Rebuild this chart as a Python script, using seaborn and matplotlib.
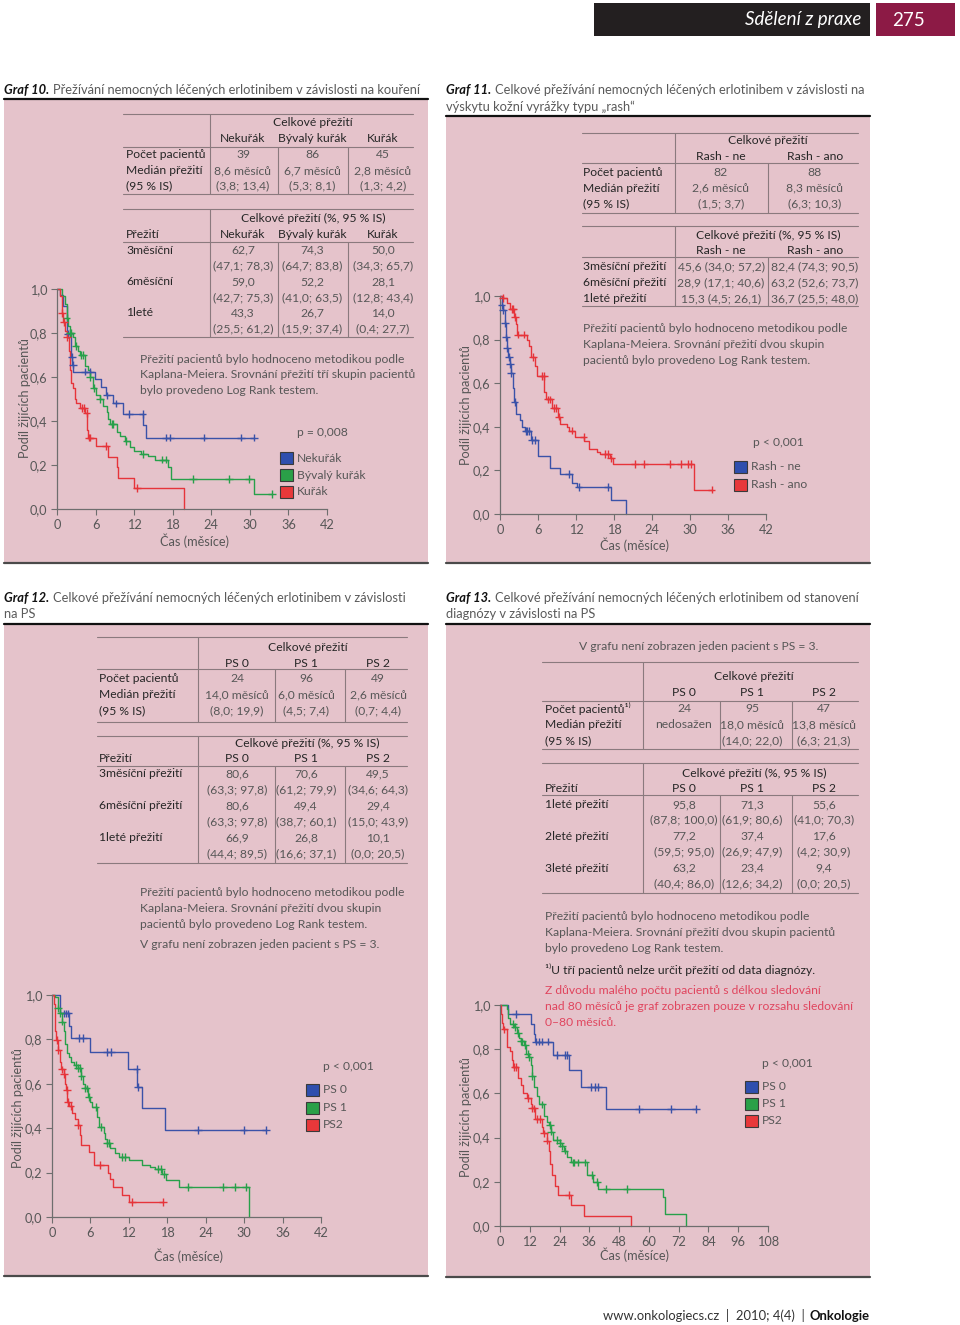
import numpy as np
import pandas as pd
import matplotlib
matplotlib.use('Agg')
import matplotlib.pyplot as plt
import seaborn as sns
from matplotlib.patches import Rectangle
from matplotlib.lines import Line2D

# ---------------- data ----------------
# Graf 10 – smoking
g10_groups = ['Nekuřák', 'Bývalý kuřák', 'Kuřák']
g10_n = ['39', '86', '45']
g10_median = ['8,6 měsíců', '6,7 měsíců', '2,8 měsíců']
g10_median_ci = ['(3,8; 13,4)', '(5,3; 8,1)', '(1,3; 4,2)']
g10_rows = ['3měsíční', '6měsíční', '1leté']
g10_surv = [['62,7', '74,3', '50,0'], ['59,0', '52,2', '28,1'], ['43,3', '26,7', '14,0']]
g10_surv_ci = [['(47,1; 78,3)', '(64,7; 83,8)', '(34,3; 65,7)'],
               ['(42,7; 75,3)', '(41,0; 63,5)', '(12,8; 43,4)'],
               ['(25,5; 61,2)', '(15,9; 37,4)', '(0,4; 27,7)']]
g10_nek_t = [0.4, 0.9, 1.5, 2.2, 2.4, 2.5, 5.9, 6.9, 7.6, 8.7, 10.3, 13.4, 13.9]
g10_nek_s = [0.974, 0.923, 0.795, 0.692, 0.656, 0.625, 0.59, 0.555, 0.516, 0.48, 0.433, 0.38, 0.325]
g10_nek_c = [1.7, 2.3, 2.45, 4.3, 5.1, 7.7, 9.1, 11.2, 13.3, 17.0, 17.6, 22.8, 28.6, 30.6]
g10_nek_end = 30.6
g10_byv_t = [0.7, 1.2, 1.5, 1.7, 2.0, 2.5, 2.8, 3.3, 3.5, 4.3, 4.8, 5.1, 5.6, 6.0, 6.7, 7.2, 7.7, 8.0,
             8.2, 9.3, 9.8, 10.6, 11.3, 12.0, 13.1, 14.2, 15.2, 17.3, 17.8, 30.7]
g10_byv_s = [0.97, 0.93, 0.87, 0.83, 0.80, 0.78, 0.74, 0.72, 0.70, 0.65, 0.63, 0.60, 0.55, 0.52, 0.50,
             0.47, 0.44, 0.41, 0.385, 0.35, 0.33, 0.31, 0.28, 0.265, 0.25, 0.24, 0.225, 0.19, 0.136, 0.068]
g10_byv_c = [1.5, 2.0, 2.2, 2.9, 3.8, 4.0, 5.1, 5.7, 6.7, 8.5, 8.7, 10.8, 13.4, 16.4, 16.9, 21.2, 26.8,
             29.8, 33.4]
g10_byv_end = 33.4
g10_kur_t = [0.4, 0.7, 0.8, 1.0, 1.2, 1.5, 1.9, 2.0, 2.1, 2.5, 2.8, 3.0, 3.5, 4.3, 4.7, 4.8, 6.1, 8.0,
             9.3, 9.5, 11.9, 19.8]
g10_kur_s = [0.97, 0.93, 0.89, 0.85, 0.81, 0.78, 0.72, 0.63, 0.575, 0.55, 0.50, 0.48, 0.46, 0.435, 0.36,
             0.325, 0.285, 0.235, 0.19, 0.14, 0.095, 0.0]
g10_kur_c = [0.8, 1.1, 1.6, 3.9, 4.2, 4.6, 5.0, 5.2, 7.6, 12.4]
g10_kur_end = 19.8

# Graf 11 – rash
g11_groups = ['Rash - ne', 'Rash - ano']
g11_n = ['82', '88']
g11_median = ['2,6 měsíců', '8,3 měsíců']
g11_median_ci = ['(1,5; 3,7)', '(6,3; 10,3)']
g11_rows = ['3měsíční přežití', '6měsíční přežití', '1leté přežití']
g11_surv = [['45,6 (34,0; 57,2)', '82,4 (74,3; 90,5)'],
            ['28,9 (17,1; 40,6)', '63,2 (52,6; 73,7)'],
            ['15,3 (4,5; 26,1)', '36,7 (25,5; 48,0)']]
g11_ne_t = [0.26, 0.5, 0.8, 0.95, 1.15, 1.3, 1.5, 1.7, 2.1, 2.2, 2.6, 3.2, 3.5, 3.9, 4.9, 6.05, 7.9,
            9.5, 11.3, 12.1, 17.6, 19.9]
g11_ne_s = [0.96, 0.935, 0.874, 0.81, 0.76, 0.72, 0.686, 0.648, 0.58, 0.515, 0.46, 0.43, 0.40, 0.38,
            0.34, 0.264, 0.21, 0.184, 0.142, 0.123, 0.062, 0.0]
g11_ne_c = [0.26, 0.5, 0.8, 0.95, 1.15, 1.45, 1.6, 1.75, 2.3, 4.1, 4.3, 4.5, 5.1, 5.6, 10.9, 12.4, 17.0]
g11_ne_end = 19.9
g11_ano_t = [0.5, 1.05, 1.6, 2.2, 2.5, 2.7, 4.2, 4.5, 4.9, 5.5, 5.9, 7.0, 7.2, 8.2, 9.2, 9.5, 10.5,
             10.9, 11.8, 13.3, 14.1, 15.3, 15.8, 17.3, 17.9, 30.6]
g11_ano_s = [0.99, 0.97, 0.94, 0.905, 0.87, 0.823, 0.80, 0.77, 0.72, 0.68, 0.632, 0.56, 0.526, 0.485,
             0.447, 0.415, 0.40, 0.383, 0.355, 0.334, 0.30, 0.285, 0.275, 0.255, 0.229, 0.112]
g11_ano_c = [0.5, 1.9, 2.1, 2.4, 2.8, 3.8, 5.2, 6.6, 6.9, 7.6, 7.9, 8.5, 8.8, 9.3, 11.3, 13.2, 16.6,
             17.1, 17.5, 21.3, 22.8, 26.8, 28.6, 29.7, 30.1, 33.4]
g11_ano_end = 33.4

# Graf 12 – PS
g12_groups = ['PS 0', 'PS 1', 'PS 2']
g12_n = ['24', '96', '49']
g12_median = ['14,0 měsíců', '6,0 měsíců', '2,6 měsíců']
g12_median_ci = ['(8,0; 19,9)', '(4,5; 7,4)', '(0,7; 4,4)']
g12_rows = ['3měsíční přežití', '6měsíční přežití', '1leté přežití']
g12_surv = [['80,6', '70,6', '49,5'], ['80,6', '49,4', '29,4'], ['66,9', '26,8', '10,1']]
g12_surv_ci = [['(63,3; 97,8)', '(61,2; 79,9)', '(34,6; 64,3)'],
               ['(63,3; 97,8)', '(38,7; 60,1)', '(15,0; 43,9)'],
               ['(44,4; 89,5)', '(16,6; 37,1)', '(0,0; 20,5)']]
g12_ps0_t = [1.3, 2.7, 2.9, 6.0, 11.9, 13.3, 14.0, 17.7]
g12_ps0_s = [0.917, 0.86, 0.805, 0.744, 0.666, 0.586, 0.489, 0.391]
g12_ps0_c = [1.8, 2.2, 2.5, 4.2, 4.9, 8.6, 9.2, 13.2, 13.4, 22.8, 29.9, 33.4]
g12_ps0_end = 33.4
g12_ps1_t = [0.5, 0.9, 1.2, 1.6, 1.8, 2.1, 2.3, 2.6, 2.9, 3.4, 4.0, 4.6, 4.8, 5.1, 5.6, 5.9, 6.2, 7.0,
             7.3, 8.1, 8.3, 8.6, 9.1, 9.9, 10.4, 12.0, 14.0, 15.3, 16.1, 17.2, 17.8, 19.8, 30.7]
g12_ps1_s = [0.99, 0.94, 0.917, 0.88, 0.84, 0.78, 0.74, 0.72, 0.70, 0.684, 0.67, 0.635, 0.60, 0.579,
             0.541, 0.52, 0.495, 0.45, 0.406, 0.38, 0.35, 0.334, 0.31, 0.29, 0.27, 0.255, 0.235, 0.225,
             0.215, 0.195, 0.165, 0.135, 0.0]
g12_ps1_c = [0.9, 1.3, 1.6, 3.8, 4.0, 4.3, 4.6, 5.1, 5.4, 5.7, 6.8, 7.6, 8.6, 8.9, 11.0, 11.4, 16.5,
             17.0, 17.5, 21.3, 26.7, 28.6, 30.3]
g12_ps1_end = 30.7
g12_ps2_t = [0.3, 0.4, 0.5, 0.7, 0.9, 1.2, 1.4, 1.8, 2.1, 2.2, 2.4, 2.7, 3.1, 3.6, 4.0, 4.3, 4.6, 5.7,
             6.6, 8.8, 9.1, 9.6, 10.9, 12.0]
g12_ps2_s = [0.96, 0.90, 0.84, 0.797, 0.752, 0.70, 0.665, 0.644, 0.60, 0.571, 0.519, 0.499, 0.47, 0.44,
             0.414, 0.37, 0.325, 0.295, 0.235, 0.20, 0.17, 0.135, 0.10, 0.068]
g12_ps2_c = [0.8, 1.0, 1.6, 1.9, 2.3, 2.5, 2.9, 4.1, 7.5, 12.5, 17.3]
g12_ps2_end = 17.3

# Graf 13 – PS, survival from diagnosis
g13_groups = ['PS 0', 'PS 1', 'PS 2']
g13_n = ['24', '95', '47']
g13_median = ['nedosažen', '18,0 měsíců', '13,8 měsíců']
g13_median_ci = ['', '(14,0; 22,0)', '(6,3; 21,3)']
g13_rows = ['1leté přežití', '2leté přežití', '3leté přežití']
g13_surv = [['95,8', '71,3', '55,6'], ['77,2', '37,4', '17,6'], ['63,2', '23,4', '9,4']]
g13_surv_ci = [['(87,8; 100,0)', '(61,9; 80,6)', '(41,0; 70,3)'],
               ['(59,5; 95,0)', '(26,9; 47,9)', '(4,2; 30,9)'],
               ['(40,4; 86,0)', '(12,6; 34,2)', '(0,0; 20,5)']]
g13_ps0_t = [3.4, 12.5, 13.5, 14.1, 21.5, 27.8, 32.6, 42.9]
g13_ps0_s = [0.958, 0.915, 0.87, 0.834, 0.773, 0.706, 0.63, 0.529]
g13_ps0_c = [6.3, 14.4, 15.7, 16.8, 19.5, 22.8, 26.2, 27.2, 36.6, 38.2, 39.6, 55.9, 68.8, 78.9]
g13_ps0_end = 78.9
g13_ps1_t = [2.7, 3.4, 4.0, 5.5, 6.7, 7.6, 8.5, 9.8, 10.5, 11.5, 12.5, 13.0, 13.8, 14.8, 15.8, 17.8,
             18.8, 19.7, 20.5, 21.5, 24.0, 25.0, 25.9, 26.8, 28.5, 34.9, 37.6, 39.3, 65.7, 66.4, 75.1]
g13_ps1_s = [0.98, 0.94, 0.915, 0.90, 0.872, 0.85, 0.835, 0.82, 0.78, 0.766, 0.73, 0.68, 0.63, 0.59,
             0.55, 0.5, 0.47, 0.457, 0.427, 0.39, 0.375, 0.36, 0.341, 0.31, 0.288, 0.23, 0.2, 0.167,
             0.13, 0.056, 0.0]
g13_ps1_c = [5.4, 6.1, 7.3, 8.5, 9.0, 10.0, 11.1, 11.6, 13.0, 17.1, 20.2, 20.5, 23.0, 24.1, 25.0, 26.0,
             29.5, 29.9, 31.3, 34.2, 36.9, 39.0, 42.9, 51.0]
g13_ps1_end = 75.1
g13_ps2_t = [0.4, 0.9, 1.3, 3.0, 4.0, 4.7, 5.4, 7.4, 8.5, 9.4, 10.7, 12.5, 13.0, 14.1, 16.8, 17.4, 18.8,
             19.7, 20.3, 21.1, 22.1, 23.5, 28.8, 33.9, 52.6]
g13_ps2_s = [0.96, 0.92, 0.89, 0.81, 0.79, 0.75, 0.72, 0.67, 0.64, 0.60, 0.578, 0.55, 0.532, 0.483,
             0.45, 0.419, 0.386, 0.34, 0.28, 0.23, 0.18, 0.14, 0.094, 0.047, 0.0]
g13_ps2_c = [1.8, 5.8, 6.3, 11.3, 13.0, 13.8, 14.8, 16.1, 17.8, 19.0, 27.8]
g13_ps2_end = 52.6

y_ticks = [0.0, 0.2, 0.4, 0.6, 0.8, 1.0]
y_tick_labels = ['0,0', '0,2', '0,4', '0,6', '0,8', '1,0']

# ---------------- style ----------------
sns.set_theme(style='ticks')
plt.rcParams['font.family'] = ['Lato', 'DejaVu Sans']

W, H = 960, 1325
PINK = '#e5c3cb'
BLUE = '#3a52a8'
GREEN = '#27a04a'
RED = '#e6343a'
DARK = '#262626'
GRAY = '#575757'
LINE = '#8a7a7e'
FS = 8.7
TFS = 9.3

fig = plt.figure(figsize=(W / 100, H / 100), dpi=100)
fig.patch.set_facecolor('white')


def fx(x):
    return x / W


def fy(y):
    return 1 - y / H


def text(x, y, s, size=FS, color=GRAY, ha='left', **kw):
    return fig.text(fx(x), fy(y), s, fontsize=size, color=color, ha=ha, va='center', **kw)


def hline(x0, x1, y, color=LINE, lw=0.8, z=2):
    fig.add_artist(Line2D([fx(x0), fx(x1)], [fy(y), fy(y)], transform=fig.transFigure,
                          color=color, lw=lw, zorder=z))


def vline(x, y0, y1, color=LINE, lw=0.8, z=2):
    fig.add_artist(Line2D([fx(x), fx(x)], [fy(y0), fy(y1)], transform=fig.transFigure,
                          color=color, lw=lw, zorder=z))


def rect(x0, y0, x1, y1, color, z=-5, ec='none', lw=0):
    fig.add_artist(Rectangle((fx(x0), fy(y1)), (x1 - x0) / W, (y1 - y0) / H,
                             transform=fig.transFigure, facecolor=color, edgecolor=ec,
                             lw=lw, zorder=z))


renderer = fig.canvas.get_renderer()


def title(x, ys, bold, lines):
    t = fig.text(fx(x), fy(ys[0]), bold, fontsize=TFS, color='#111111', fontweight='bold',
                 style='italic', va='center')
    bb = t.get_window_extent(renderer)
    text(bb.x1 + 3.5, ys[0], lines[0], size=TFS, color='#5a5a5a')
    for y, ln in zip(ys[1:], lines[1:]):
        text(x, y, ln, size=TFS, color='#5a5a5a')


def table1(x0, x1, xv, cols, seps, ys, groups, n, med, ci, lab_x, first_label='Počet pacientů'):
    top, yt, yg, ym, yr, bot = ys
    hline(x0, x1, top)
    hline(x0, x1, ym)
    hline(x0, x1, bot)
    vline(xv, top, bot)
    for s in seps:
        vline(s, ym, bot)
    text((cols[0] + cols[-1]) / 2, yt, 'Celkové přežití', color=DARK, ha='center')
    for c, g in zip(cols, groups):
        text(c, yg, g, color=DARK, ha='center')
    for lab, y in zip([first_label, 'Medián přežití', '(95 % IS)'], yr):
        text(lab_x, y, lab, color=DARK)
    for c, a, b, d in zip(cols, n, med, ci):
        text(c, yr[0], a, ha='center')
        text(c, yr[1], b, ha='center')
        text(c, yr[2], d, ha='center')


def table2(x0, x1, xv, cols, seps, ys, groups, rows, vals, cis, lab_x, header_label):
    top, yt, yh, ym, yr, bot = ys
    hline(x0, x1, top)
    hline(x0, x1, ym)
    hline(x0, x1, bot)
    vline(xv, top, bot)
    for s in seps:
        vline(s, ym, bot)
    text((cols[0] + cols[-1]) / 2, yt, 'Celkové přežití (%, 95 % IS)', color=DARK, ha='center')
    if header_label:
        text(lab_x, yh, header_label, color=DARK)
    for c, g in zip(cols, groups):
        text(c, yh, g, color=DARK, ha='center')
    step = 2 if cis is not None else 1
    for i, lab in enumerate(rows):
        y = yr[i * step]
        text(lab_x, y, lab, color=DARK)
        for j, c in enumerate(cols):
            text(c, y, vals[i][j], ha='center')
            if cis is not None:
                text(c, yr[i * step + 1], cis[i][j], ha='center')


def legend(x, ys, labels, colors, p_xy, p_text):
    text(p_xy[0], p_xy[1], p_text)
    for y, lab, col in zip(ys, labels, colors):
        rect(x, y - 6, x + 12.5, y + 6, col, z=3, ec='#3a3a3a', lw=0.8)
        text(x + 17, y, lab)


def km_axes(box, xmax, xstep, series, palette, xlab_xy, ylab_xy):
    L, R, T, B = box
    ax = fig.add_axes([fx(L), fy(B), (R - L) / W, (B - T) / H])
    ax.set_facecolor('none')
    rows, cens = [], []
    for name, (times, surv, cts, end) in series.items():
        xs = [0.0] + list(times)
        ys = [1.0] + list(surv)
        if end > xs[-1]:
            xs.append(end)
            ys.append(ys[-1])
        rows += [dict(t=a, s=b, g=name) for a, b in zip(xs, ys)]
        tarr = np.asarray(times)
        for c in cts:
            idx = np.searchsorted(tarr, c, side='right') - 1
            lvl = 1.0 if idx < 0 else surv[idx]
            cens.append(dict(t=c, s=lvl, g=name))
    df = pd.DataFrame(rows)
    cdf = pd.DataFrame(cens)
    sns.lineplot(data=df, x='t', y='s', hue='g', palette=palette, estimator=None, sort=False,
                 drawstyle='steps-post', linewidth=1.0, legend=False, ax=ax)
    sns.scatterplot(data=cdf, x='t', y='s', hue='g', palette=palette, marker='+', s=30,
                    linewidth=1.0, legend=False, ax=ax, zorder=3)
    for art in list(ax.lines) + list(ax.collections):
        art.set_clip_on(False)
    ax.set_xlim(0, xmax)
    ax.set_ylim(0, 1)
    ax.set_xticks(np.arange(0, xmax + 1, xstep))
    ax.set_yticks(y_ticks)
    ax.set_yticklabels(y_tick_labels)
    for s in ['top', 'right']:
        ax.spines[s].set_visible(False)
    for s in ['left', 'bottom']:
        ax.spines[s].set_color('#6e6e6e')
        ax.spines[s].set_linewidth(0.9)
    ax.tick_params(direction='out', length=4, width=0.8, color='#6e6e6e', labelcolor=GRAY,
                   labelsize=9.2, pad=3)
    ax.set_xlabel('Čas (měsíce)', fontsize=9.2, color=GRAY)
    ax.set_ylabel('Podíl žijících pacientů', fontsize=9.2, color=GRAY)
    ax.xaxis.label.set_va('center')
    ax.yaxis.label.set_va('center')
    ax.xaxis.set_label_coords((xlab_xy[0] - L) / (R - L), (B - xlab_xy[1]) / (B - T))
    ax.yaxis.set_label_coords((ylab_xy[0] - L) / (R - L), (B - ylab_xy[1]) / (B - T))
    return ax


# ---------------- page header / footer ----------------
rect(594, 3, 870, 36, '#231f20', z=-4)
rect(876, 3, 955, 36, '#8c1a45', z=-4)
text(861, 20, 'Sdělení z praxe', size=13.5, color='white', ha='right', style='italic')
text(908, 20, '275', size=13.5, color='white', ha='center')

t_onk = text(870, 1316, 'Onkologie', size=9.4, color='#111111', ha='right', fontweight='bold')
bbo = t_onk.get_window_extent(renderer)
text(bbo.x0 - 5, 1316, 'www.onkologiecs.cz  |  2010; 4(4)  |', size=9.4, color='#333333', ha='right')

# ---------------- panel backgrounds ----------------
rect(4, 100, 428, 562, PINK)
rect(446, 117, 870, 562, PINK)
rect(4, 625, 428, 1275, PINK)
rect(446, 625, 870, 1276, PINK)
hline(4, 428, 99, color='#111111', lw=1.6)
hline(446, 870, 116, color='#111111', lw=1.6)
hline(4, 428, 624, color='#111111', lw=1.6)
hline(446, 870, 624, color='#111111', lw=1.6)
hline(4, 428, 563, color='#4a4a4a', lw=1.6)
hline(446, 870, 563, color='#4a4a4a', lw=1.6)
hline(4, 428, 1276, color='#4a4a4a', lw=1.6)
hline(446, 870, 1277, color='#4a4a4a', lw=1.6)

# ---------------- titles ----------------
title(4, [90], 'Graf 10.', ['Přežívání nemocných léčených erlotinibem v závislosti na kouření'])
title(446, [90, 107], 'Graf 11.', ['Celkové přežívání nemocných léčených erlotinibem v závislosti na',
                                    'výskytu kožní vyrážky typu „rash“'])
title(4, [598, 614], 'Graf 12.', ['Celkové přežívání nemocných léčených erlotinibem v závislosti',
                                   'na PS'])
title(446, [598, 614], 'Graf 13.', ['Celkové přežívání nemocných léčených erlotinibem od stanovení',
                                     'diagnózy v závislosti na PS'])

# ---------------- Graf 10 ----------------
table1(123, 413, 210, [243, 312, 383], [278, 348], (114, 123, 139, 147, [155, 171, 186], 194),
       g10_groups, g10_n, g10_median, g10_median_ci, 126)
table2(123, 413, 210, [243, 312, 383], [278, 348],
       (209, 218, 234, 242, [250, 266, 281.5, 297.5, 312.5, 328.5], 337),
       g10_groups, g10_rows, g10_surv, g10_surv_ci, 126, 'Přežití')
for y, ln in zip([359, 375, 391], ['Přežití pacientů bylo hodnoceno metodikou podle',
                                   'Kaplana-Meiera. Srovnání přežití tří skupin pacientů',
                                   'bylo provedeno Log Rank testem.']):
    text(140, y, ln)
km_axes((57, 327, 289, 509), 42, 6,
        {'Nekuřák': (g10_nek_t, g10_nek_s, g10_nek_c, g10_nek_end),
         'Bývalý kuřák': (g10_byv_t, g10_byv_s, g10_byv_c, g10_byv_end),
         'Kuřák': (g10_kur_t, g10_kur_s, g10_kur_c, g10_kur_end)},
        {'Nekuřák': BLUE, 'Bývalý kuřák': GREEN, 'Kuřák': RED}, (195, 541), (25, 398))
legend(280, [458, 475.5, 491.5], g10_groups, ['#2f4fae', '#2aa048', '#e8383a'], (297, 433), 'p = 0,008')

# ---------------- Graf 11 ----------------
table1(582, 858, 675, [721, 815], [768], (133, 140, 156, 163, [172, 188, 204], 213),
       g11_groups, g11_n, g11_median, g11_median_ci, 583)
table2(582, 858, 675, [721, 815], [768], (226, 235.5, 251, 257, [267, 283, 298.5], 306),
       g11_groups, g11_rows, g11_surv, None, 583, None)
for y, ln in zip([329, 345, 361], ['Přežití pacientů bylo hodnoceno metodikou podle',
                                   'Kaplana-Meiera. Srovnání přežití dvou skupin',
                                   'pacientů bylo provedeno Log Rank testem.']):
    text(583, y, ln)
km_axes((500, 766, 296, 514), 42, 6,
        {'Rash - ne': (g11_ne_t, g11_ne_s, g11_ne_c, g11_ne_end),
         'Rash - ano': (g11_ano_t, g11_ano_s, g11_ano_c, g11_ano_end)},
        {'Rash - ne': BLUE, 'Rash - ano': RED}, (635, 545), (466, 405))
legend(734, [466.5, 484.5], g11_groups, ['#2f4fae', '#e8383a'], (753, 443), 'p < 0,001')

# ---------------- Graf 12 ----------------
table1(97, 407, 198, [237, 306, 378], [275, 345], (637, 647.5, 663, 669, [679, 695, 711], 722),
       g12_groups, g12_n, g12_median, g12_median_ci, 99)
table2(97, 407, 198, [237, 306, 378], [275, 345],
       (736, 743, 758, 765.5, [773.5, 789.5, 805.5, 821.5, 837.5, 853.5], 863),
       g12_groups, g12_rows, g12_surv, g12_surv_ci, 99, 'Přežití')
for y, ln in zip([893, 909, 925, 945], ['Přežití pacientů bylo hodnoceno metodikou podle',
                                        'Kaplana-Meiera. Srovnání přežití dvou skupin',
                                        'pacientů bylo provedeno Log Rank testem.',
                                        'V grafu není zobrazen jeden pacient s PS = 3.']):
    text(140, y, ln)
km_axes((52, 321, 995, 1217), 42, 6,
        {'PS 0': (g12_ps0_t, g12_ps0_s, g12_ps0_c, g12_ps0_end),
         'PS 1': (g12_ps1_t, g12_ps1_s, g12_ps1_c, g12_ps1_end),
         'PS 2': (g12_ps2_t, g12_ps2_s, g12_ps2_c, g12_ps2_end)},
        {'PS 0': BLUE, 'PS 1': GREEN, 'PS 2': RED}, (188, 1256), (18, 1108))
legend(306, [1089.5, 1107.5, 1125], ['PS 0', 'PS 1', 'PS2'], ['#2f4fae', '#2aa048', '#e8383a'],
       (323, 1066.5), 'p < 0,001')

# ---------------- Graf 13 ----------------
text(699, 646, 'V grafu není zobrazen jeden pacient s PS = 3.', ha='center')
table1(542, 858, 643, [684, 752, 824], [720, 792], (662, 677, 693, 701, [709, 725, 741], 749),
       g13_groups, g13_n, g13_median, g13_median_ci, 545, first_label='Počet pacientů¹⁾')
table2(542, 858, 643, [684, 752, 824], [720, 792],
       (763, 773, 788.5, 795, [804.5, 820, 836, 852, 868, 884], 893),
       g13_groups, g13_rows, g13_surv, g13_surv_ci, 545, 'Přežití')
for y, ln in zip([916.5, 932.5, 948.5], ['Přežití pacientů bylo hodnoceno metodikou podle',
                                         'Kaplana-Meiera. Srovnání přežití dvou skupin pacientů',
                                         'bylo provedeno Log Rank testem.']):
    text(545, y, ln)
text(545, 969.5, '¹⁾U tří pacientů nelze určit přežití od data diagnózy.', color=DARK)
for y, ln in zip([991, 1007, 1023], ['Z důvodu malého počtu pacientů s délkou sledování',
                                     'nad 80 měsíců je graf zobrazen pouze v rozsahu sledování',
                                     '0–80 měsíců.']):
    text(545, y, ln, color='#e0455e')
km_axes((500, 768, 1005, 1226), 108, 12,
        {'PS 0': (g13_ps0_t, g13_ps0_s, g13_ps0_c, g13_ps0_end),
         'PS 1': (g13_ps1_t, g13_ps1_s, g13_ps1_c, g13_ps1_end),
         'PS 2': (g13_ps2_t, g13_ps2_s, g13_ps2_c, g13_ps2_end)},
        {'PS 0': BLUE, 'PS 1': GREEN, 'PS 2': RED}, (634, 1255), (466, 1117))
legend(745, [1086.5, 1103.5, 1121], ['PS 0', 'PS 1', 'PS2'], ['#2f4fae', '#2aa048', '#e8383a'],
       (762, 1063.5), 'p < 0,001')

fig.savefig('out.png', dpi=100)
